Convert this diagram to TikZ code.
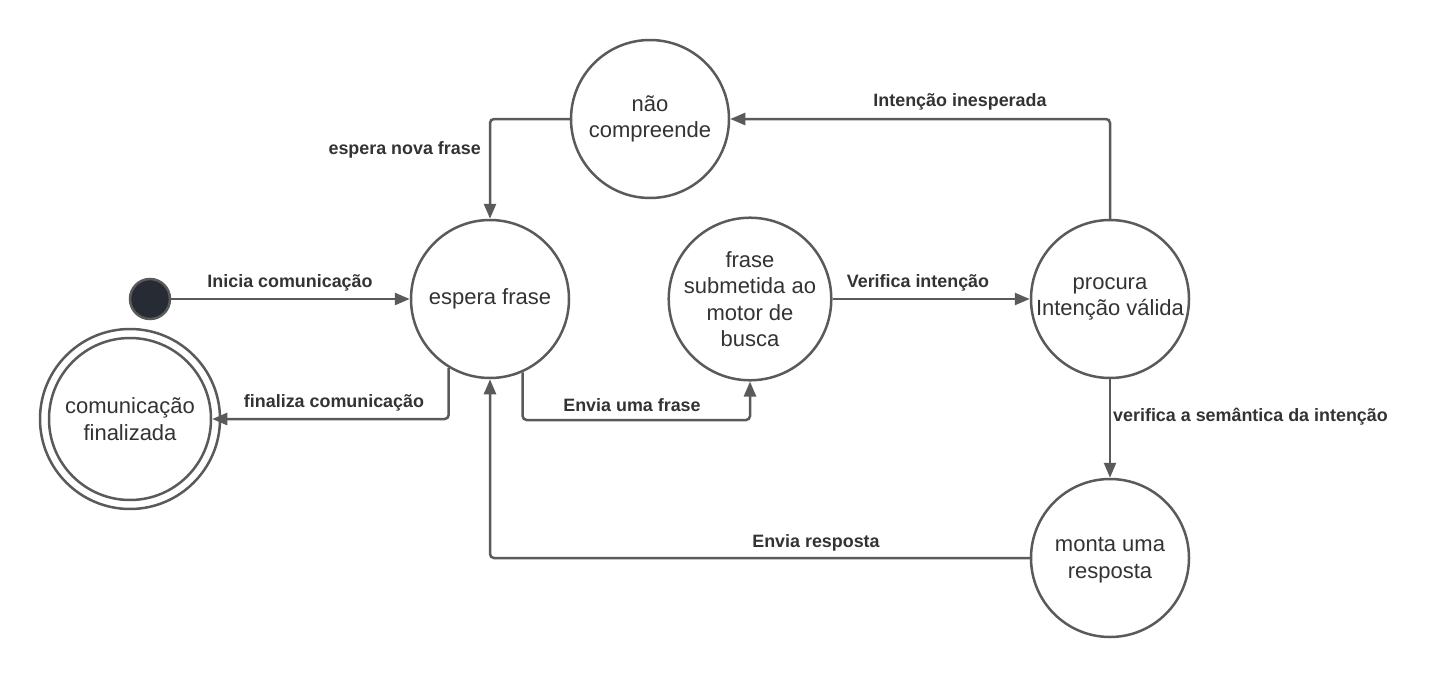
\documentclass[tikz,border=0pt]{standalone}
\usepackage{fontspec}
\setmainfont{Liberation Sans}
\usetikzlibrary{arrows.meta}
\definecolor{linec}{HTML}{5A5A5A}
\definecolor{txtc}{HTML}{333333}
\definecolor{dotc}{HTML}{272B33}
\begin{document}
\begin{tikzpicture}[x=1pt,y=-1pt,
  state/.style={circle,draw=linec,line width=2.5pt,fill=white,minimum size=158pt,inner sep=0pt,align=center,text=txtc,font=\fontsize{22}{26.5}\selectfont},
  conn/.style={draw=linec,line width=2.5pt,-{Triangle[length=15pt,width=12pt]},rounded corners=4pt},
  lbl/.style={text=txtc,font=\bfseries\fontsize{17.9}{20}\selectfont,inner sep=0pt}]
\useasboundingbox (0,0) rectangle (1430,680);
\node[state] (nc) at (650,119) {não\\compreende};
\node[state] (ef) at (490,299) {espera frase};
\node[state] (fs) at (750,299) {frase\\submetida ao\\motor de\\busca};
\node[state] (pi) at (1110,299) {procura\\Intenção válida};
\node[state] (mr) at (1110,558) {};
\node[align=center,text=txtc,font=\fontsize{22}{26.5}\selectfont,inner sep=0pt] (mrt) at (1110,560) {monta uma\\resposta};
\node[circle,draw=linec,line width=2.5pt,minimum size=180pt,inner sep=0pt] (cfo) at (130,419) {};
\node[state,minimum size=162pt] (cf) at (130,419) {comunicação\\finalizada};
\node[circle,draw=linec,line width=2.5pt,fill=dotc,minimum size=40pt,inner sep=0pt] (ini) at (150,299) {};
\coordinate (b1) at (0,420);
\draw[conn] (ini.east) -- (ef.west);
\draw[conn] (ef.-121.7) |- (cf.east);
\draw[conn] (ef.-66.4) -- (ef.-66.4 |- b1) -| (fs.south);
\draw[conn] (fs.east) -- (pi.west);
\draw[conn] (pi.north) |- (nc.east);
\draw[conn] (nc.west) -| (ef.north);
\draw[conn] (pi.south) -- (mr.north);
\draw[conn] (mr.west) -| (ef.south);
\node[lbl] (l1) at (290,283) {Inicia comunicação};
\node[lbl] (l2) at (334,403) {finaliza comunicação};
\node[lbl,anchor=east] (l3) at (481,150) {espera nova frase};
\node[lbl] (l4) at (632,405) {Envia uma frase};
\node[lbl] (l5) at (918,283) {Verifica intenção};
\node[lbl] (l6) at (960,102) {Intenção inesperada};
\node[lbl,anchor=west] (l7) at (1113,417) {verifica a semântica da intenção};
\node[lbl] (l8) at (816,543) {Envia resposta};
\end{tikzpicture}
\end{document}
